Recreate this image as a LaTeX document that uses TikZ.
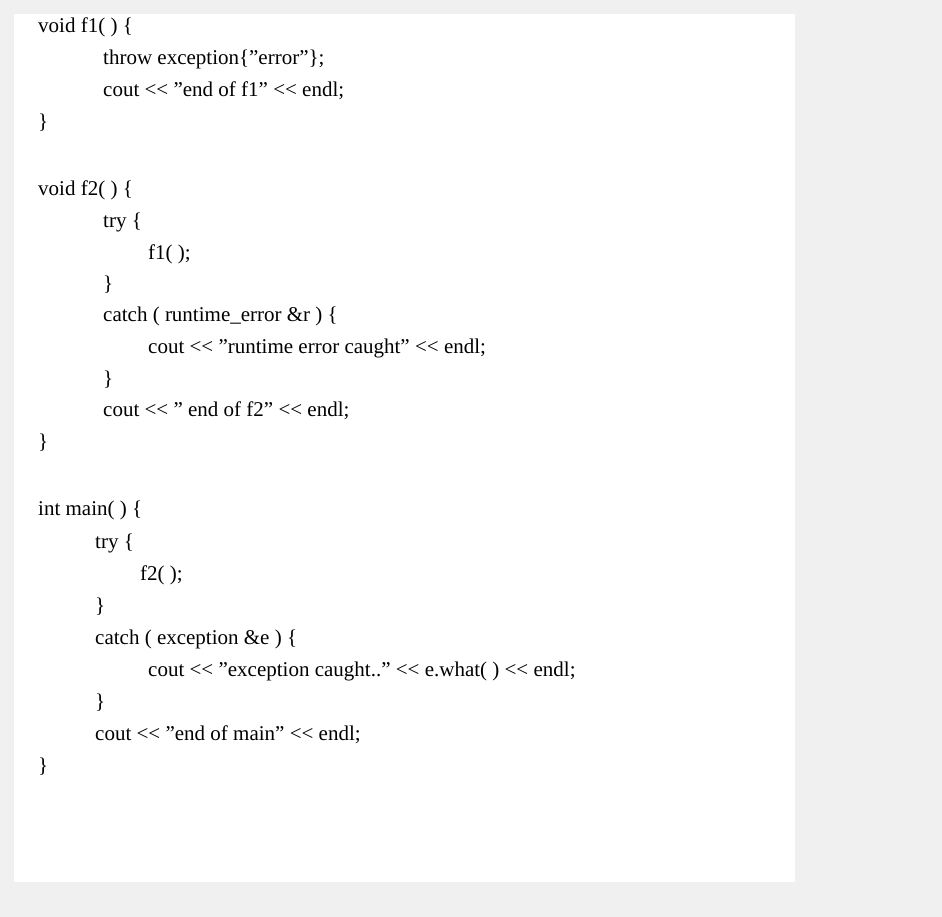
\documentclass[tikz,border=0pt]{standalone}
\usepackage{fontspec}
\setmainfont{Liberation Serif}[Ligatures=ResetAll]
\definecolor{bg}{HTML}{F0F0F0}
\newcommand\qq{\symbol{34}}
\newcommand\shl{\symbol{60}\symbol{60}}
\begin{document}
\begin{tikzpicture}[x=1pt,y=-1pt,
  code/.style={anchor=west,inner sep=0pt,font=\fontsize{21}{25}\selectfont}]
\fill[bg] (0,0) rectangle (942,917);
\fill[white] (14,14) rectangle (795,882);
\node[code] (l1) at (38,27) {void f1( ) \{};
\node[code] (l2) at (103,59) {throw exception\{\qq error\qq\};};
\node[code] (l3) at (103,91) {cout \shl{} \qq end of f1\qq{} \shl{} endl;};
\node[code] (l4) at (38,123) {\}};
\node[code] (l6) at (38,190) {void f2( ) \{};
\node[code] (l7) at (103,222) {try \{};
\node[code] (l8) at (148,254) {f1( );};
\node[code] (l9) at (103,285) {\}};
\node[code] (l10) at (103,316) {catch ( runtime\_error \&r ) \{};
\node[code] (l11) at (148,348) {cout \shl{} \qq runtime error caught\qq{} \shl{} endl;};
\node[code] (l12) at (103,380) {\}};
\node[code] (l13) at (103,411) {cout \shl{} \qq{} end of f2\qq{} \shl{} endl;};
\node[code] (l14) at (38,443) {\}};
\node[code] (l16) at (38,510) {int main( ) \{};
\node[code] (l17) at (95,543) {try \{};
\node[code] (l18) at (140,575) {f2( );};
\node[code] (l19) at (95,607) {\}};
\node[code] (l20) at (95,639) {catch ( exception \&e ) \{};
\node[code] (l21) at (148,671) {cout \shl{} \qq exception caught..\qq{} \shl{} e.what( ) \shl{} endl;};
\node[code] (l22) at (95,703) {\}};
\node[code] (l23) at (95,735) {cout \shl{} \qq end of main\qq{} \shl{} endl;};
\node[code] (l24) at (38,767) {\}};
\end{tikzpicture}
\end{document}
